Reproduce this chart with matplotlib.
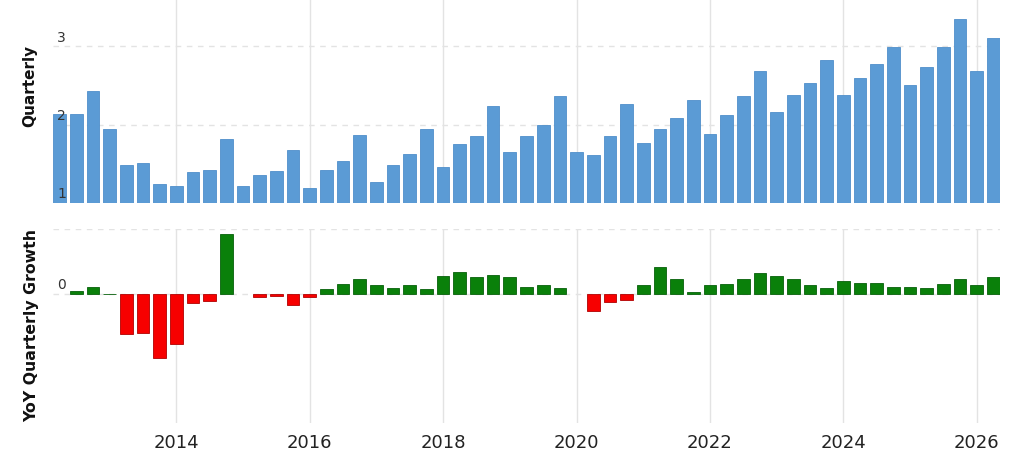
import numpy as np
import matplotlib
matplotlib.use("Agg")
import matplotlib.pyplot as plt

# quarterly values, first bar at 2012.25, one bar per quarter
first_quarter = 2012.25
quarterly = [2.14, 2.14, 2.43, 1.95, 1.49, 1.51, 1.24, 1.22, 1.39, 1.42,
             1.82, 1.22, 1.36, 1.41, 1.68, 1.19, 1.42, 1.53, 1.87, 1.27,
             1.49, 1.63, 1.95, 1.46, 1.75, 1.85, 2.24, 1.65, 1.85, 1.99,
             2.36, 1.65, 1.61, 1.85, 2.26, 1.77, 1.95, 2.09, 2.31, 1.88,
             2.12, 2.36, 2.68, 2.16, 2.38, 2.53, 2.82, 2.38, 2.60, 2.77,
             2.99, 2.51, 2.73, 2.99, 3.35, 2.68, 3.11]

# year-over-year growth (fraction), first quarter has none
yoy_growth = [np.nan, 0.028, 0.058, 0.005, -0.305, -0.295, -0.49, -0.38,
              -0.07, -0.05, 0.465, 0.0, -0.02, -0.01, -0.08, -0.02,
              0.038, 0.079, 0.12, 0.069, 0.048, 0.069, 0.038, 0.14,
              0.17, 0.13, 0.15, 0.13, 0.059, 0.069, 0.048, 0.0,
              -0.13, -0.06, -0.04, 0.069, 0.21, 0.12, 0.018, 0.069,
              0.079, 0.12, 0.16, 0.14, 0.12, 0.069, 0.048, 0.10,
              0.09, 0.09, 0.059, 0.059, 0.048, 0.079, 0.12, 0.069, 0.13]

year_ticks = [2014, 2016, 2018, 2020, 2022, 2024, 2026]

x = first_quarter + 0.25 * np.arange(len(quarterly))
growth = np.array(yoy_growth)

W, H = 1024, 457
fig = plt.figure(figsize=(W / 100, H / 100), dpi=100)
fig.patch.set_facecolor("white")

left = 53 / W
width = 947 / W
ax1 = fig.add_axes([left, (H - 203) / H, width, 203 / H])
ax2 = fig.add_axes([left, (H - 423) / H, width, (423 - 229) / H])

xlim = (first_quarter - 0.1, x[-1] + 0.1)
grid_col = "#e3e3e3"

for ax in (ax1, ax2):
    ax.set_xlim(*xlim)
    for s in ax.spines.values():
        s.set_visible(False)
    ax.set_xticks(year_ticks)
    ax.tick_params(length=0)
    ax.grid(axis="x", color=grid_col, linewidth=1, linestyle="-")
    ax.set_axisbelow(True)

# top panel
ax1.bar(x, np.array(quarterly) - 1, bottom=1, width=0.19,
        color="#5b9bd5", edgecolor="#4f8fca", linewidth=0.6)
ax1.set_ylim(1, 1 + 203 / 78.4)
ax1.set_yticks([2, 3])
ax1.yaxis.grid(True, color=grid_col, linestyle=(0, (4, 4)), linewidth=1)
ax1.set_xticklabels([])
ax1.set_yticklabels([])
for v in [1, 2, 3]:
    ax1.text(first_quarter - 0.04, v + 0.02, str(v), fontsize=10,
             color="#333333", ha="left", va="bottom")

# bottom panel, skip empty quarters
has = np.nan_to_num(growth) != 0
pos = has & (growth > 0)
neg = has & (growth < 0)
ax2.bar(x[pos], growth[pos], width=0.19, color="#0a800a",
        edgecolor="#06600a", linewidth=0.6)
ax2.bar(x[neg], growth[neg], width=0.19, color="#f70000",
        edgecolor="#b00000", linewidth=0.6)
ax2.set_ylim(-(423 - 294.3) / 130.6, 0.5)
ax2.set_yticks([0, 0.5])
ax2.yaxis.grid(True, color=grid_col, linestyle=(0, (4, 4)), linewidth=1)
ax2.set_yticklabels([])
ax2.text(first_quarter - 0.04, 0.02, "0", fontsize=10,
         color="#333333", ha="left", va="bottom")
ax2.set_xticklabels([str(y) for y in year_ticks], fontsize=13,
                    color="#222222")
ax2.tick_params(axis="x", pad=8)

fig.text(30 / W, 1 - 86 / H, "Quarterly", rotation=90, fontsize=11,
         fontweight="bold", ha="center", va="center", color="#111111")
fig.text(32 / W, 1 - 326 / H, "YoY Quarterly Growth", rotation=90,
         fontsize=11.3, fontweight="bold", ha="center", va="center",
         color="#111111")

fig.savefig("out.png", dpi=100, facecolor="white")
